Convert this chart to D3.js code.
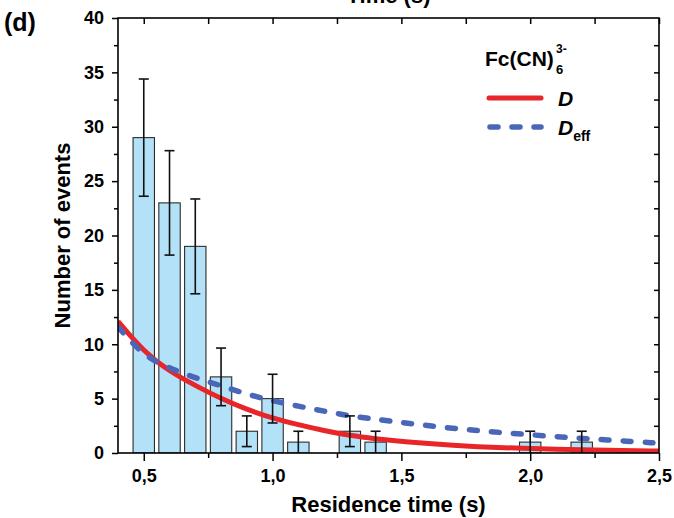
<!DOCTYPE html>
<html><head><meta charset="utf-8">
<script src="https://cdn.jsdelivr.net/npm/d3@7"></script>
<style>
html,body{margin:0;padding:0;background:#fff;}
svg{display:block;font-family:"Liberation Sans",Arial,sans-serif;}
</style></head>
<body>
<script>
// ---- data ----
const binCenters = [0.5,0.6,0.7,0.8,0.9,1.0,1.1,1.3,1.4,2.0,2.2];
const counts     = [29, 23, 19, 7, 2, 5, 1, 2, 1, 1, 1];
const countErr   = [5.39,4.80,4.36,2.65,1.41,2.24,1.0,1.41,1.0,1.0,1.0];

const curveX    = [0.4,0.5,0.6,0.7,0.8,0.9,1.0,1.1,1.2,1.3,1.4,1.5,1.7,1.9,2.1,2.3,2.5];
const curveD    = [12.1,9.3,7.5,6.2,5.0,4.0,3.2,2.6,2.05,1.6,1.3,1.05,0.7,0.47,0.33,0.24,0.18];
const curveDeff = [11.6,8.9,7.8,6.9,6.2,5.4,4.8,4.3,3.85,3.4,3.1,2.8,2.25,1.85,1.5,1.2,0.9];

const xMajor = [0.5,1.0,1.5,2.0,2.5];
const xMinor = [0.75,1.25,1.75,2.25];
const yMajor = [0,5,10,15,20,25,30,35,40];
const yMinor = [2.5,7.5,12.5,17.5,22.5,27.5,32.5,37.5];

const W = 674, H = 518;
const svg = d3.select("body").append("svg").attr("width", W).attr("height", H);

const x = d3.scaleLinear().domain([0.4, 2.5]).range([118, 659]);
const y = d3.scaleLinear().domain([0, 40]).range([453, 18]);
const binW = 0.083;
const fmt = d => d3.format(".1f")(d).replace(".", ",");

svg.append("defs").append("clipPath").attr("id","clip")
  .append("rect").attr("x", x(0.4)).attr("y", y(40)).attr("width", x(2.5)-x(0.4)).attr("height", y(0)-y(40));

// bars
const plot = svg.append("g").attr("clip-path","url(#clip)");
plot.selectAll("rect.bar").data(binCenters).join("rect").attr("class","bar")
  .attr("x", d => x(d - binW/2))
  .attr("width", d => x(d + binW/2) - x(d - binW/2))
  .attr("y", (d,i) => y(counts[i]))
  .attr("height", (d,i) => y(0) - y(counts[i]))
  .attr("fill", "#b3e1f7").attr("stroke", "#2b2b2b").attr("stroke-width", 1.1);

// error bars
const eb = svg.append("g").attr("stroke","#111").attr("stroke-width",1.6).attr("fill","none");
binCenters.forEach((c,i) => {
  const lo = Math.max(0, counts[i]-countErr[i]), hi = counts[i]+countErr[i];
  eb.append("line").attr("x1",x(c)).attr("x2",x(c)).attr("y1",y(lo)).attr("y2",y(hi));
  eb.append("line").attr("x1",x(c)-5).attr("x2",x(c)+5).attr("y1",y(hi)).attr("y2",y(hi));
  if (lo > 0) eb.append("line").attr("x1",x(c)-5).attr("x2",x(c)+5).attr("y1",y(lo)).attr("y2",y(lo));
});

// curves
const line = d3.line().x((d)=>x(d[0])).y(d=>y(d[1])).curve(d3.curveBasis);
plot.append("path").datum(curveX.map((v,i)=>[v,curveD[i]]))
  .attr("d", line).attr("fill","none").attr("stroke","#e8262a").attr("stroke-width",5);
plot.append("path").datum(curveX.map((v,i)=>[v,curveDeff[i]]))
  .attr("d", line).attr("fill","none").attr("stroke","#4a66b8").attr("stroke-width",5.5)
  .attr("stroke-dasharray","8,14").attr("stroke-linecap","round");

// axes
const axStyle = g => { g.select(".domain").remove(); g.selectAll("line").attr("stroke","#000").attr("stroke-width",1.5); };
const tickText = g => g.selectAll("text").attr("fill","#000").attr("font-size","18px").attr("font-weight","bold").attr("font-family","Liberation Sans, Arial, sans-serif");

svg.append("g").attr("transform",`translate(0,${y(0)})`)
  .call(d3.axisBottom(x).tickValues(xMajor).tickSize(8).tickPadding(8).tickFormat(fmt))
  .call(axStyle).call(tickText);
svg.append("g").attr("transform",`translate(0,${y(0)})`)
  .call(d3.axisBottom(x).tickValues(xMinor).tickSize(5).tickFormat(""))
  .call(axStyle);
svg.append("g").attr("transform",`translate(0,${y(40)})`)
  .call(d3.axisBottom(x).tickValues(xMajor.concat(xMinor)).tickSize(6).tickFormat(""))
  .call(axStyle);

svg.append("g").attr("transform",`translate(${x(0.4)},0)`)
  .call(d3.axisLeft(y).tickValues(yMajor).tickSize(6).tickPadding(8).tickFormat(d3.format("d")))
  .call(axStyle).call(tickText);
svg.append("g").attr("transform",`translate(${x(0.4)},0)`)
  .call(d3.axisLeft(y).tickValues(yMinor).tickSize(4).tickFormat(""))
  .call(axStyle);
svg.append("g").attr("transform",`translate(${x(2.5)},0)`)
  .call(d3.axisLeft(y).tickValues(yMajor.concat(yMinor).filter(v=>v>0&&v<40)).tickSize(5).tickFormat(""))
  .call(axStyle);

// frame
svg.append("rect").attr("x",x(0.4)).attr("y",y(40)).attr("width",x(2.5)-x(0.4)).attr("height",y(0)-y(40))
  .attr("fill","none").attr("stroke","#000").attr("stroke-width",1.6);

// labels
svg.append("text").attr("x", (x(0.4)+x(2.5))/2).attr("y", 512).attr("text-anchor","middle")
  .attr("font-size","22px").attr("font-weight","bold").text("Residence time (s)");
svg.append("text").attr("transform",`translate(70,${(y(0)+y(40))/2}) rotate(-90)`).attr("text-anchor","middle")
  .attr("font-size","22px").attr("font-weight","bold").text("Number of events");
svg.append("text").attr("x", (x(0.4)+x(2.5))/2).attr("y", 3).attr("text-anchor","middle")
  .attr("font-size","22px").attr("font-weight","bold").text("Time (s)");
svg.append("text").attr("x", 4).attr("y", 31)
  .attr("font-size","25px").attr("font-weight","bold").text("(d)");

// legend
const lg = svg.append("g");
lg.append("text").attr("x",485).attr("y",66).attr("font-size","21px").attr("font-weight","bold").text("Fc(CN)");
lg.append("text").attr("x",556).attr("y",53).attr("font-size","12px").attr("font-weight","bold").text("3-");
lg.append("text").attr("x",556).attr("y",74).attr("font-size","13px").attr("font-weight","bold").text("6");
lg.append("line").attr("x1",489).attr("x2",541).attr("y1",98).attr("y2",98)
  .attr("stroke","#e8262a").attr("stroke-width",5).attr("stroke-linecap","round");
lg.append("line").attr("x1",490).attr("x2",541).attr("y1",127).attr("y2",127)
  .attr("stroke","#4a66b8").attr("stroke-width",5.5).attr("stroke-dasharray","8,14").attr("stroke-linecap","round");
lg.append("text").attr("x",558).attr("y",106).attr("font-size","21px").attr("font-weight","bold").attr("font-style","italic").text("D");
const de = lg.append("text").attr("x",558).attr("y",135).attr("font-size","21px").attr("font-weight","bold").attr("font-style","italic");
de.append("tspan").text("D");
de.append("tspan").attr("dy",6).attr("font-size","14px").attr("font-style","normal").text("eff");
</script>
</body></html>
